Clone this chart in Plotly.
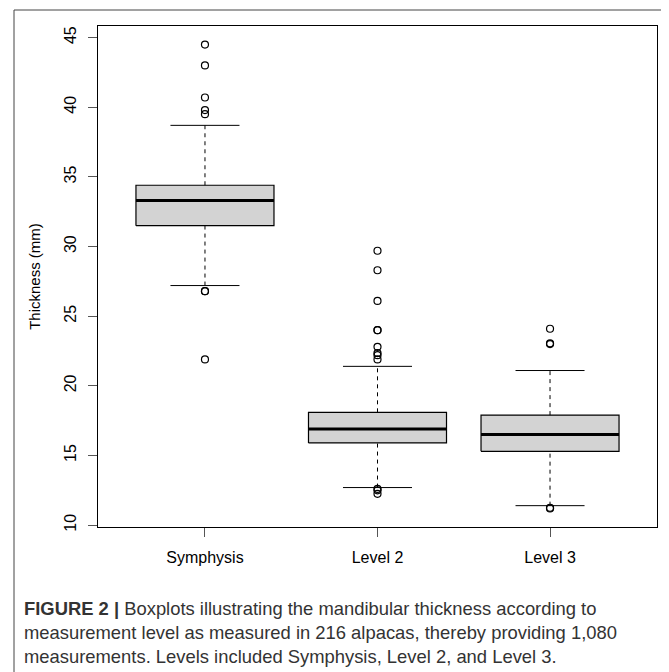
import plotly.graph_objects as go

# ---- data ----
categories = ["Symphysis", "Level 2", "Level 3"]
q1 = [31.5, 15.9, 15.3]
median = [33.3, 16.9, 16.5]
q3 = [34.4, 18.1, 17.9]
lower_whisker = [27.2, 12.7, 11.4]
upper_whisker = [38.7, 21.4, 21.1]
outliers = [
    [44.5, 43.0, 40.7, 39.8, 39.5, 26.8, 26.8, 21.9],
    [29.7, 28.3, 26.1, 24.0, 24.0, 22.8, 22.35, 22.2, 21.9, 12.6, 12.5, 12.25],
    [24.1, 23.05, 23.0, 11.25, 11.2],
]
y_ticks = [10, 15, 20, 25, 30, 35, 40, 45]
y_label = "Thickness (mm)"
caption = ("<b>FIGURE 2 |</b> Boxplots illustrating the mandibular thickness according to<br>"
           "measurement level as measured in 216 alpacas, thereby providing 1,080<br>"
           "measurements. Levels included Symphysis, Level 2, and Level 3.")

# ---- layout geometry (page has an 8px body margin) ----
OFF = 8
W, H = 669 - OFF, 672 - OFF
L, R, T, B = 90, 12, 18, 145
pw, ph = W - L - R, H - T - B

def px_x(px):  # page pixel -> paper x
    return (px - OFF - L) / pw

def px_y(py):  # page pixel -> paper y
    return (H - B - (py - OFF)) / ph

HALF_BOX = 0.4
HALF_CAP = 0.2
FONT = "Liberation Sans, Arial, Helvetica, sans-serif"

fig = go.Figure()
for i, name in enumerate(categories):
    xc = i + 1
    fig.add_trace(go.Scatter(
        x=[xc - HALF_BOX, xc + HALF_BOX, xc + HALF_BOX, xc - HALF_BOX, xc - HALF_BOX],
        y=[q1[i], q1[i], q3[i], q3[i], q1[i]],
        mode="lines", fill="toself", fillcolor="#d3d3d3",
        line=dict(color="black", width=1.2), hoverinfo="skip"))
    fig.add_trace(go.Scatter(
        x=[xc - HALF_BOX, xc + HALF_BOX], y=[median[i], median[i]],
        mode="lines", line=dict(color="black", width=3)))
    fig.add_trace(go.Scatter(
        x=[xc, xc], y=[q3[i], upper_whisker[i]],
        mode="lines", line=dict(color="black", width=1, dash="4px,4px")))
    fig.add_trace(go.Scatter(
        x=[xc, xc], y=[lower_whisker[i], q1[i]],
        mode="lines", line=dict(color="black", width=1, dash="4px,4px")))
    fig.add_trace(go.Scatter(
        x=[xc - HALF_CAP, xc + HALF_CAP], y=[upper_whisker[i], upper_whisker[i]],
        mode="lines", line=dict(color="black", width=1)))
    fig.add_trace(go.Scatter(
        x=[xc - HALF_CAP, xc + HALF_CAP], y=[lower_whisker[i], lower_whisker[i]],
        mode="lines", line=dict(color="black", width=1)))
    fig.add_trace(go.Scatter(
        x=[xc] * len(outliers[i]), y=outliers[i], mode="markers",
        marker=dict(symbol="circle-open", size=7, color="black", line=dict(width=1.2))))

# axis ranges like R (data range extended by 4%)
all_vals = [v for o in outliers for v in o] + lower_whisker + upper_whisker
ymin, ymax = min(all_vals), max(all_vals)
ext = 0.04 * (ymax - ymin)
n = len(categories)
xr = [0.5 - 0.04 * n, n + 0.5 + 0.04 * n]

fig.update_layout(
    width=W, height=H, showlegend=False,
    margin=dict(l=L, r=R, t=T, b=B, pad=0),
    paper_bgcolor="white", plot_bgcolor="white",
    font=dict(family=FONT, color="black", size=16),
    xaxis=dict(range=xr, tickvals=list(range(1, n + 1)), ticktext=categories,
               showgrid=False, zeroline=False, showline=True, mirror=True,
               linecolor="black", linewidth=1, ticks="outside", ticklen=9,
               tickcolor="#555", tickfont=dict(size=16), ticklabelstandoff=7),
    yaxis=dict(range=[ymin - ext, ymax + ext], tickvals=y_ticks,
               showgrid=False, zeroline=False, showline=True, mirror=True,
               linecolor="black", linewidth=1, ticks="outside", ticklen=9,
               tickcolor="#555", tickangle=-90, tickfont=dict(size=16),
               ticklabelstandoff=6,
               title=dict(text=y_label, font=dict(size=15), standoff=17)),
)

# outer figure frame
fig.add_shape(type="rect", xref="paper", yref="paper",
              x0=px_x(14), x1=px_x(667), y0=px_y(700), y1=px_y(10),
              line=dict(color="#444", width=1), fillcolor="rgba(0,0,0,0)", layer="below")
fig.add_shape(type="line", xref="paper", yref="paper",
              x0=px_x(668.5), x1=px_x(668.5), y0=px_y(700), y1=px_y(11),
              line=dict(color="#bbb", width=2), layer="below")

fig.add_annotation(xref="paper", yref="paper", x=px_x(22), y=px_y(596),
                   xanchor="left", yanchor="top", align="left", showarrow=False,
                   text=caption,
                   font=dict(family=FONT, size=18.4, color="#333"))

fig.write_html("out.html")
